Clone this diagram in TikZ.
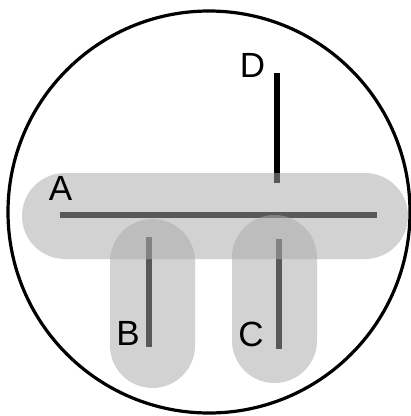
\documentclass[tikz,border=0pt]{standalone}
\usepackage{fontspec}
\setmainfont{Liberation Sans}
\begin{document}
\begin{tikzpicture}[x=1pt,y=-1pt,
  capsule/.style={fill={rgb,255:red,170;green,170;blue,170}, fill opacity=0.52, draw=none},
  stick/.style={draw=black, line width=6.5pt},
  lbl/.style={font=\fontsize{35}{35}\selectfont, text=black, inner sep=0pt}]
\useasboundingbox (0,0) rectangle (411,416);
\fill[white] (0,0) rectangle (411,416);
\draw[line width=3.2pt] (209,212) circle[radius=201];
% sticks
\coordinate (a1) at (60,215); \coordinate (a2) at (377,215);
\coordinate (b1) at (149,237); \coordinate (b2) at (149,347);
\coordinate (c1) at (279,239); \coordinate (c2) at (279,349);
\coordinate (d1) at (277,73); \coordinate (d2) at (277,183);
\draw[stick] (a1) -- (a2);
\draw[stick] (b1) -- (b2);
\draw[stick] (c1) -- (c2);
\draw[stick, line width=6pt] (d1) -- (d2);
% capsules
\path[capsule, rounded corners=43] (22,173) rectangle (408,259);
\path[capsule, rounded corners=42.5] (110,219) rectangle (195,388);
\path[capsule, rounded corners=42.5] (232,215) rectangle (317,383);
% labels
\node[lbl] (A) at (60.5,188.5) {A};
\node[lbl] (B) at (128,333.5) {B};
\node[lbl] (C) at (251,334) {C};
\node[lbl] (D) at (252.5,65.5) {D};
\end{tikzpicture}
\end{document}
